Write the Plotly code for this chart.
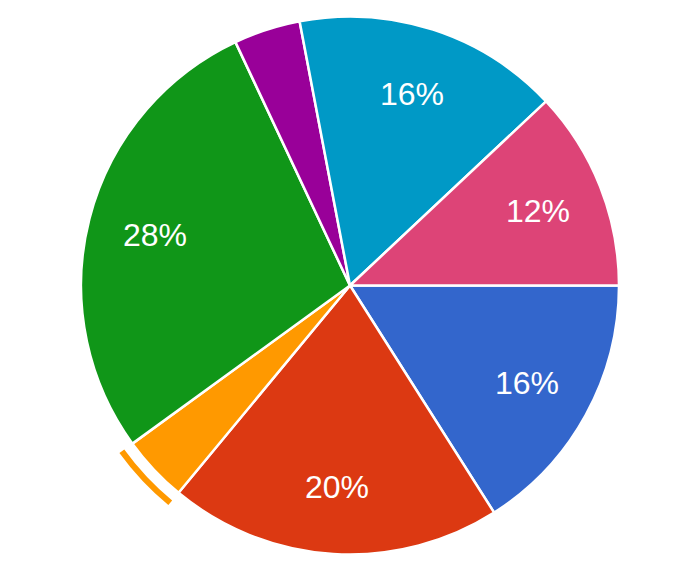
import math
import plotly.graph_objects as go

# slices, clockwise from 3 o'clock
names = ['Blue', 'Red', 'Orange', 'Green', 'Purple', 'Cyan', 'Pink']
values = [16, 20, 4, 28, 4, 16, 12]
colors = ['#3366cc', '#dc3912', '#ff9900', '#109618', '#990099', '#0099c6', '#dd4477']
highlighted = 'Orange'

W, H = 680, 578
cx, cy = 350, 285.5      # pie centre in pixels (from top-left)
R = 269                  # pie radius
ring_in, ring_out = 279, 285


def domain(r):
    return dict(x=[(cx - r) / W, (cx + r) / W],
                y=[1 - (cy + r) / H, 1 - (cy - r) / H])


fig = go.Figure()

fig.add_trace(go.Pie(
    labels=names, values=values, sort=False,
    direction='clockwise', rotation=90,
    marker=dict(colors=colors, line=dict(color='white', width=2.5)),
    textinfo='none', hoverinfo='skip',
    domain=domain(R),
))

# highlight ring around the hovered slice
ring_colors = [c if n == highlighted else 'rgba(0,0,0,0)' for n, c in zip(names, colors)]
fig.add_trace(go.Pie(
    labels=names, values=values, sort=False,
    direction='clockwise', rotation=90,
    hole=ring_in / ring_out,
    marker=dict(colors=ring_colors, line=dict(width=0)),
    textinfo='none', hoverinfo='skip',
    domain=domain(ring_out),
))

# percentage labels
total = sum(values)
annotations = []
start = 0
for v in values:
    pct = v / total * 100
    mid = (start + v / 2) / total * 2 * math.pi
    start += v
    if pct < 5:
        continue
    rl = 0.75 * R
    px = cx + rl * math.cos(mid)
    py = cy + rl * math.sin(mid)
    annotations.append(dict(
        x=px / W, y=1 - py / H, xref='paper', yref='paper',
        text='%d%%' % round(pct), showarrow=False,
        font=dict(family='Arial, Liberation Sans, sans-serif', size=32, color='white'),
        xanchor='center', yanchor='middle',
    ))

fig.update_layout(
    width=W, height=H,
    margin=dict(t=0, l=0, r=0, b=0),
    showlegend=False,
    paper_bgcolor='white',
    plot_bgcolor='white',
    annotations=annotations,
)

fig.write_html("out.html", config={'displayModeBar': False},
               post_script="document.body.style.margin='0px';")
